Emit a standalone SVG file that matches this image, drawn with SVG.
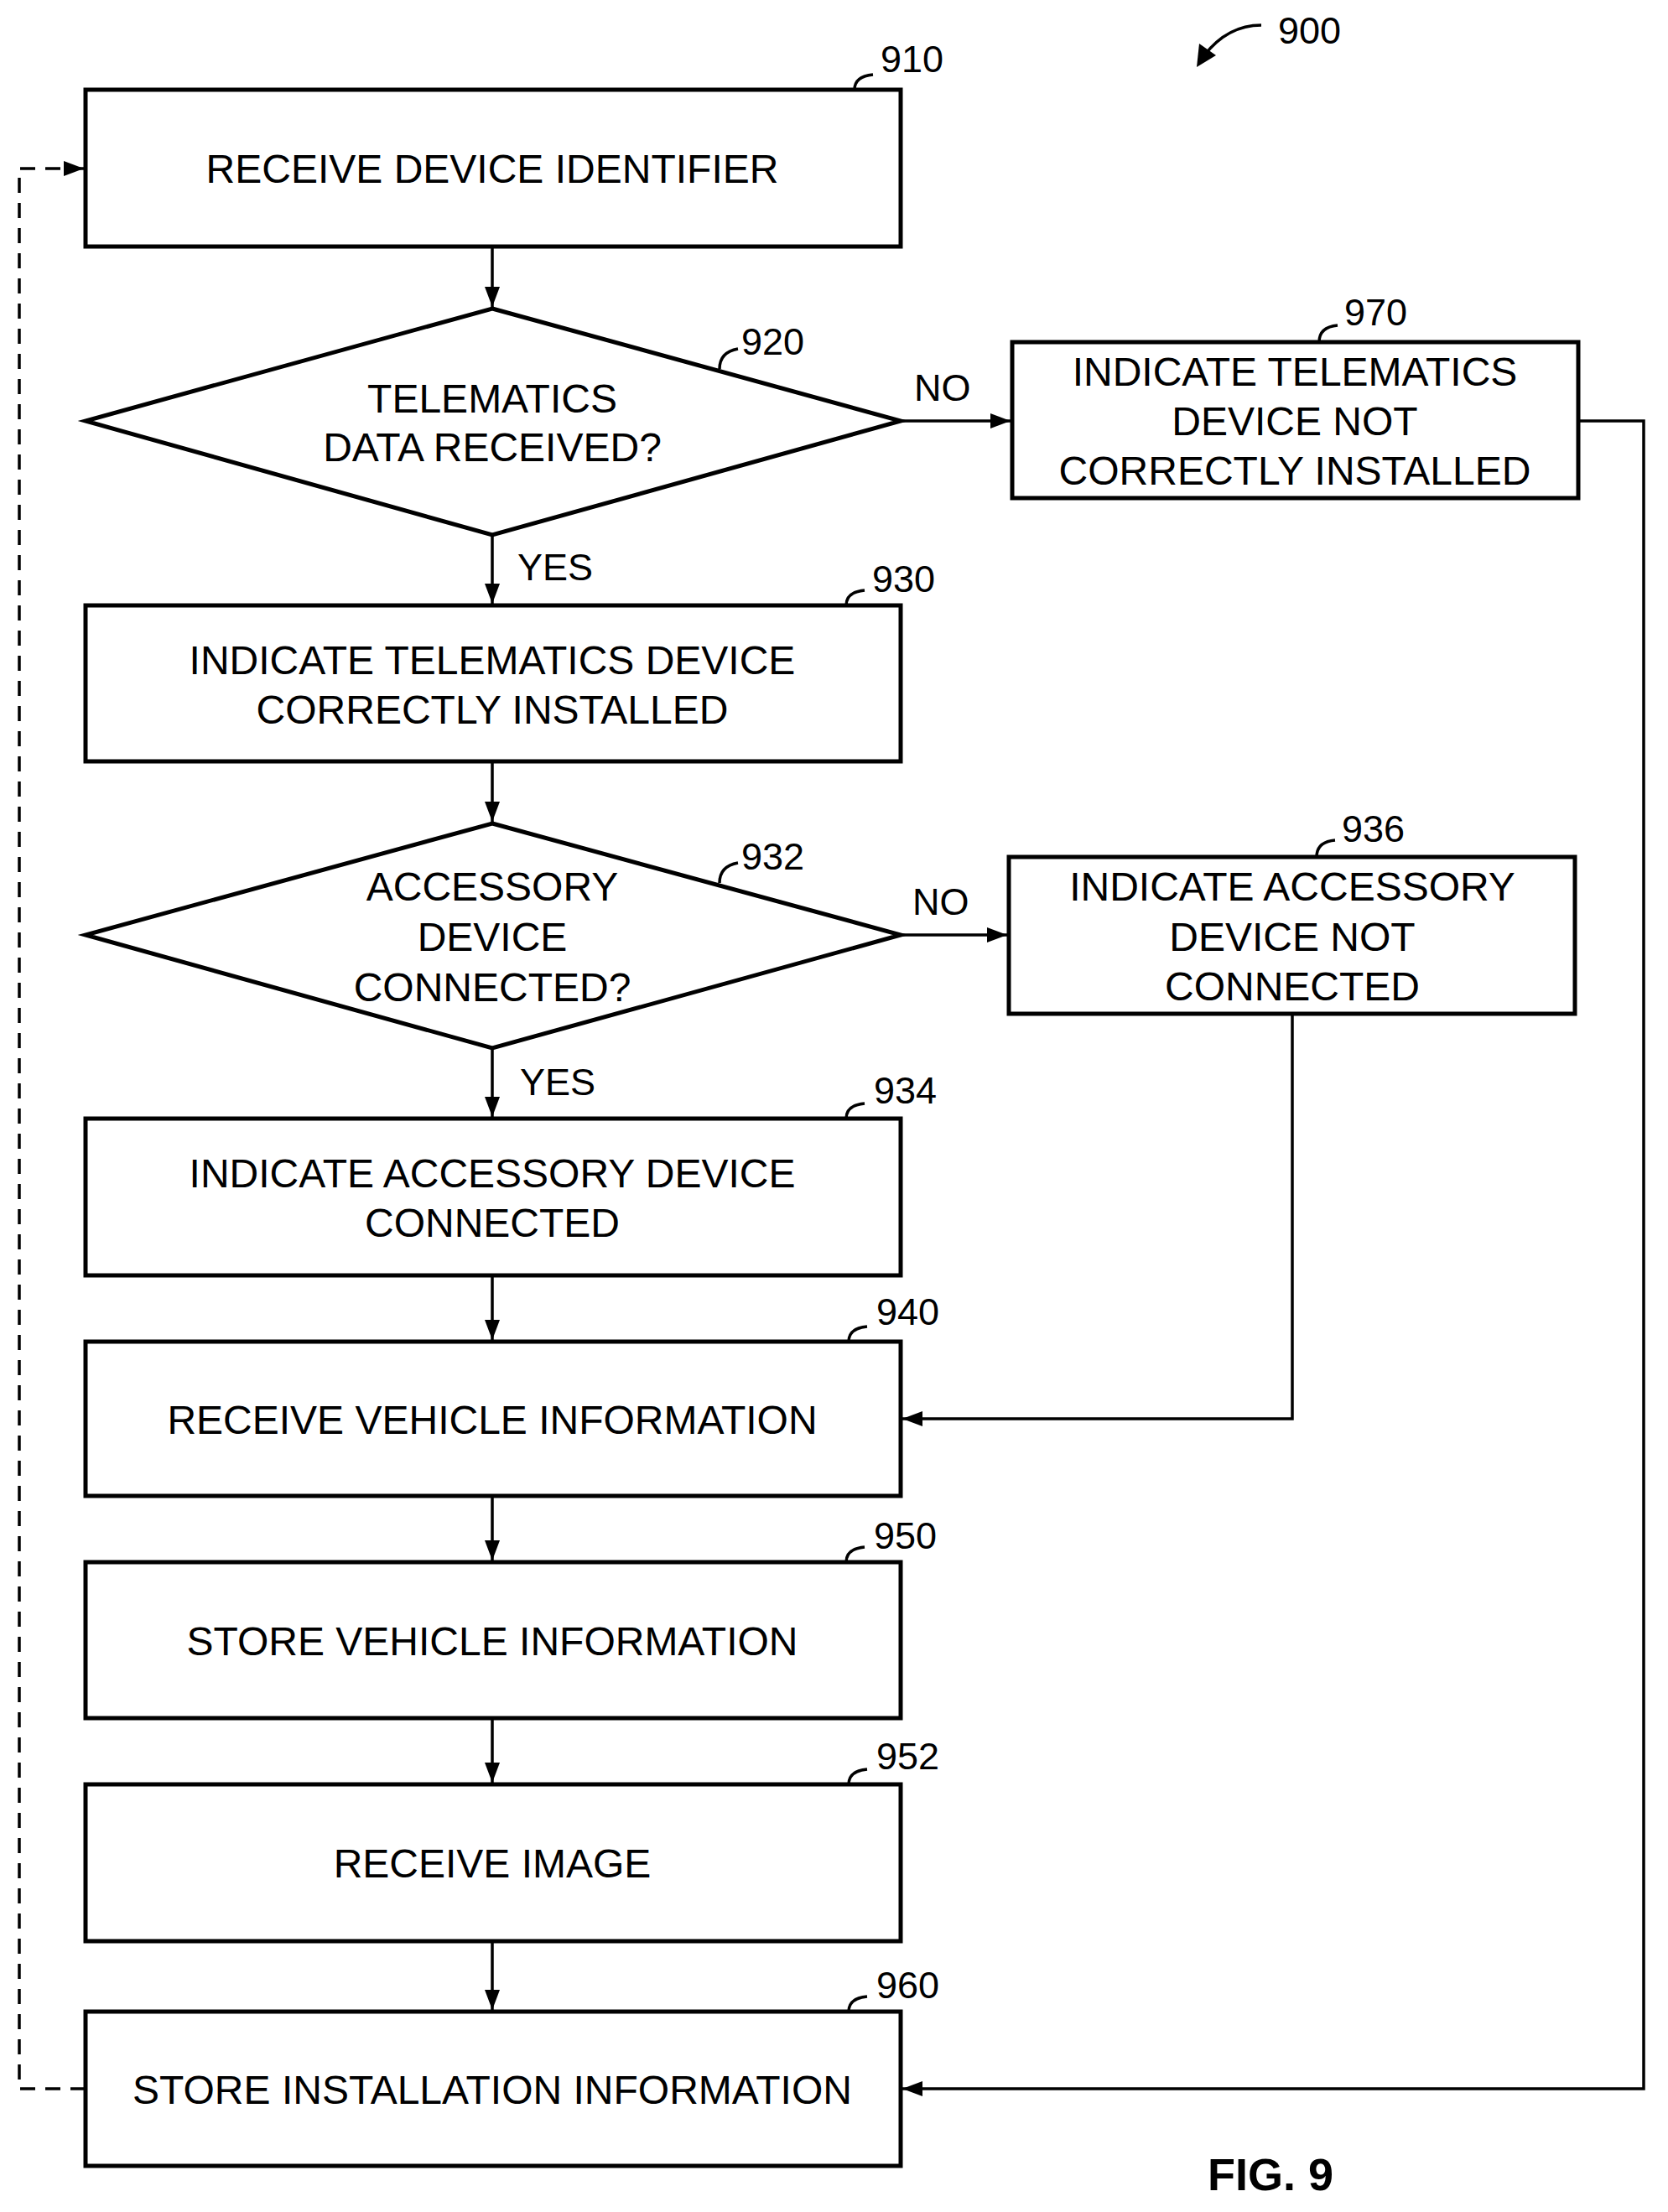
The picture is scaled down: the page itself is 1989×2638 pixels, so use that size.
<svg xmlns="http://www.w3.org/2000/svg" width="1989" height="2638" viewBox="0 0 1989 2638">
<style>
.b{fill:#fff;stroke:#000;stroke-width:5}
.t{font-family:"Liberation Sans",Arial,sans-serif;font-size:48px;text-anchor:middle;fill:#000}
.n{font-family:"Liberation Sans",Arial,sans-serif;font-size:45px;fill:#000}
.c{fill:none;stroke:#000;stroke-width:3.5}
.l{fill:none;stroke:#000;stroke-width:3.5}
</style>
<defs>
<marker id="A" markerWidth="24" markerHeight="22" refX="24" refY="11" orient="auto" markerUnits="userSpaceOnUse" viewBox="0 0 24 22"><path d="M0,2L24,11L0,20z"/></marker></defs>
<rect width="1989" height="2638" fill="#fff"/>
<g id="connectors">
<path class="c" d="M587,294V366" marker-end="url(#A)"/>
<path class="c" d="M1074,502H1205" marker-end="url(#A)"/>
<path class="c" d="M587,638V720" marker-end="url(#A)"/>
<path class="c" d="M587,908V980" marker-end="url(#A)"/>
<path class="c" d="M1074,1115H1201" marker-end="url(#A)"/>
<path class="c" d="M587,1250V1332" marker-end="url(#A)"/>
<path class="c" d="M587,1521V1598" marker-end="url(#A)"/>
<path class="c" d="M1541,1209V1692H1076" marker-end="url(#A)"/>
<path class="c" d="M587,1784V1861" marker-end="url(#A)"/>
<path class="c" d="M587,2049V2126" marker-end="url(#A)"/>
<path class="c" d="M587,2315V2397" marker-end="url(#A)"/>
<path class="c" d="M1882,502H1960V2491H1076" marker-end="url(#A)"/>
<path class="c" d="M102,2491H23V201H100" stroke-dasharray="18,12" marker-end="url(#A)"/>
<text class="n" x="1090" y="478">NO</text>
<text class="n" x="1088" y="1091">NO</text>
<text class="n" x="617" y="692">YES</text>
<text class="n" x="620" y="1306">YES</text>
</g>
<g id="n910"><rect class="b" x="102" y="107" width="972" height="187"/><text class="t" x="587" y="218">RECEIVE DEVICE IDENTIFIER</text><path class="l" d="M1019,107q0,-16 22,-18"/><text class="n" x="1050" y="86">910</text></g>
<g id="n920"><path class="b" d="M587,368L1074,502L587,638L102,502Z"/><text class="t" x="587" y="492">TELEMATICS</text><text class="t" x="587" y="550">DATA RECEIVED?</text><path class="l" d="M858,440q0,-20 22,-24"/><text class="n" x="884" y="423">920</text></g>
<g id="n970"><rect class="b" x="1207" y="408" width="675" height="186"/><text class="t" x="1544" y="460">INDICATE TELEMATICS</text><text class="t" x="1544" y="519">DEVICE NOT</text><text class="t" x="1544" y="578">CORRECTLY INSTALLED</text><path class="l" d="M1573,408q0,-18 22,-20"/><text class="n" x="1603" y="388">970</text></g>
<g id="n930"><rect class="b" x="102" y="722" width="972" height="186"/><text class="t" x="587" y="804">INDICATE TELEMATICS DEVICE</text><text class="t" x="587" y="863">CORRECTLY INSTALLED</text><path class="l" d="M1009,722q0,-16 22,-18"/><text class="n" x="1040" y="706">930</text></g>
<g id="n932"><path class="b" d="M587,982L1074,1115L587,1250L102,1115Z"/><text class="t" x="587" y="1074">ACCESSORY</text><text class="t" x="587" y="1134">DEVICE</text><text class="t" x="587" y="1194">CONNECTED?</text><path class="l" d="M858,1053q0,-20 22,-24"/><text class="n" x="884" y="1037">932</text></g>
<g id="n936"><rect class="b" x="1203" y="1022" width="675" height="187"/><text class="t" x="1541" y="1074">INDICATE ACCESSORY</text><text class="t" x="1541" y="1134">DEVICE NOT</text><text class="t" x="1541" y="1193">CONNECTED</text><path class="l" d="M1570,1022q0,-18 22,-20"/><text class="n" x="1600" y="1004">936</text></g>
<g id="n934"><rect class="b" x="102" y="1334" width="972" height="187"/><text class="t" x="587" y="1416">INDICATE ACCESSORY DEVICE</text><text class="t" x="587" y="1475">CONNECTED</text><path class="l" d="M1009,1334q0,-16 22,-18"/><text class="n" x="1042" y="1316">934</text></g>
<g id="n940"><rect class="b" x="102" y="1600" width="972" height="184"/><text class="t" x="587" y="1710">RECEIVE VEHICLE INFORMATION</text><path class="l" d="M1012,1600q0,-16 22,-18"/><text class="n" x="1045" y="1580">940</text></g>
<g id="n950"><rect class="b" x="102" y="1863" width="972" height="186"/><text class="t" x="587" y="1974">STORE VEHICLE INFORMATION</text><path class="l" d="M1009,1863q0,-16 22,-18"/><text class="n" x="1042" y="1847">950</text></g>
<g id="n952"><rect class="b" x="102" y="2128" width="972" height="187"/><text class="t" x="587" y="2239">RECEIVE IMAGE</text><path class="l" d="M1012,2128q0,-16 22,-18"/><text class="n" x="1045" y="2110">952</text></g>
<g id="n960"><rect class="b" x="102" y="2399" width="972" height="184"/><text class="t" x="587" y="2509">STORE INSTALLATION INFORMATION</text><path class="l" d="M1012,2399q0,-16 22,-18"/><text class="n" x="1045" y="2383">960</text></g>
<g id="label900"><path class="c" d="M1504,30q-40,0 -68,36"/><path d="M1427,80L1430,52L1450,66Z"/><text class="n" x="1524" y="52">900</text></g>
<text x="1440" y="2612" font-family="Liberation Sans,Arial,sans-serif" font-size="54" font-weight="bold">FIG. 9</text>
</svg>
